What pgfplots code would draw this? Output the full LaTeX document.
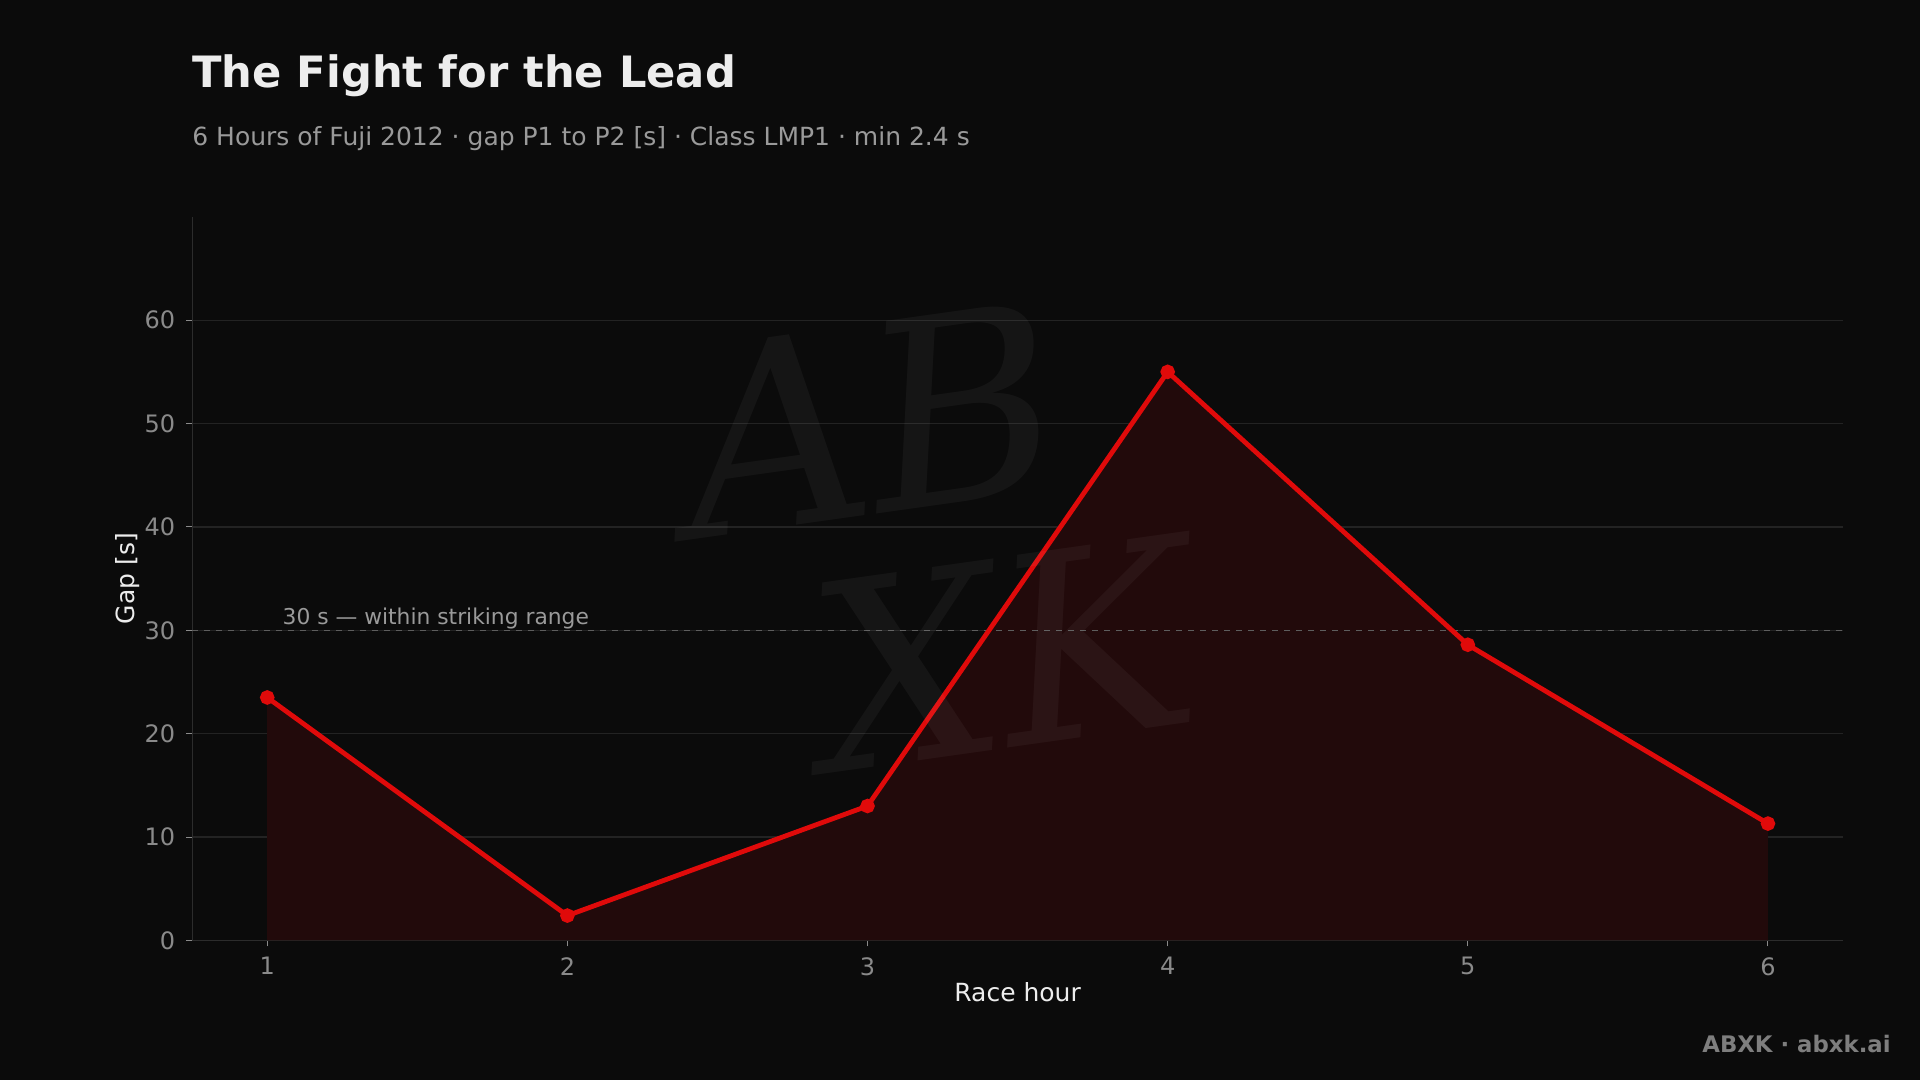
\documentclass[border=0pt]{standalone}
\usepackage{fontspec}
\setmainfont{DejaVu Sans}
\newfontfamily\wmfont{DejaVu Serif}
\usepackage{pgfplots}
\pgfplotsset{compat=1.18}
\definecolor{bg}{HTML}{0B0B0B}
\definecolor{gridc}{HTML}{232323}
\definecolor{spine}{HTML}{2C2C2C}
\definecolor{tickc}{HTML}{8A8A8A}
\definecolor{subc}{HTML}{9A9A9A}
\definecolor{labc}{HTML}{EDEDED}
\definecolor{redl}{HTML}{E00A0A}
\definecolor{redf}{HTML}{220A0B}
\definecolor{dashc}{HTML}{5E5E5E}
\definecolor{footc}{HTML}{7E7E7E}
\begin{document}
\begin{tikzpicture}
\fill[bg] (0,0) rectangle (960pt,540pt);
\node[anchor=base west, text=labc, font=\bfseries\fontsize{21.6}{24}\selectfont, inner sep=0pt] at (96pt,496pt) {The Fight for the Lead};
\node[anchor=base west, text=subc, font=\fontsize{12.5}{14}\selectfont, inner sep=0pt] at (96pt,467pt) {6 Hours of Fuji 2012 · gap P1 to P2 [s] · Class LMP1 · min 2.4 s};
\node[anchor=base east, text=footc, font=\bfseries\fontsize{11.4}{13}\selectfont, inner sep=0pt] at (945.5pt,13.5pt) {ABXK · abxk.ai};
\begin{axis}[
  at={(96.1pt,69.8pt)}, anchor=south west,
  scale only axis, width=825.4pt, height=361.8pt,
  xmin=0.75, xmax=6.25, ymin=0, ymax=70,
  axis lines=left, axis line style={spine, line width=0.6pt, -},
  xtick={1,2,3,4,5,6}, ytick={0,10,20,30,40,50,60},
  tick align=outside, major tick length=3pt,
  tick style={tickc, line width=0.5pt},
  ymajorgrids, grid style={gridc, line width=0.6pt},
  ticklabel style={text=tickc, font=\fontsize{12}{14}\selectfont},
  /pgf/number format/assume math mode=true,
  yticklabel style={xshift=-2pt},
  xticklabel style={yshift=-2pt},
  xlabel={Race hour}, ylabel={Gap [s]},
  label style={text=labc, font=\fontsize{12.5}{14}\selectfont},
  xlabel style={at={(axis description cs:0.5,-0.072)}, anchor=center},
  ylabel style={at={(axis description cs:-0.039,0.5)}, anchor=center, rotate=0},
  clip=false,
]
\addplot[fill=redf, draw=none] coordinates {(1,23.5) (2,2.4) (3,13.0) (4,55.0) (5,28.6) (6,11.3)} \closedcycle;
\addplot[dashc, dashed, line width=0.6pt, forget plot] coordinates {(0.75,30) (6.25,30)};
\addplot[redl, line width=2.4pt, mark=*, mark size=2.4pt, mark options={fill=redl, draw=redl}] coordinates {(1,23.5) (2,2.4) (3,13.0) (4,55.0) (5,28.6) (6,11.3)};
\node[anchor=base west, text=subc, font=\fontsize{10.9}{12}\selectfont, inner sep=0pt] at ([yshift=2.8pt]axis cs:1.05,30) {30 s — within striking range};
\end{axis}
\node[text=white, text opacity=0.045, font=\wmfont\itshape\fontsize{130}{125}\selectfont, rotate=8, align=left] at (468pt,272pt) {AB\\\hspace*{50pt}XK};
\pgfresetboundingbox
\useasboundingbox (0,0) rectangle (960pt,540pt);
\end{tikzpicture}
\end{document}
